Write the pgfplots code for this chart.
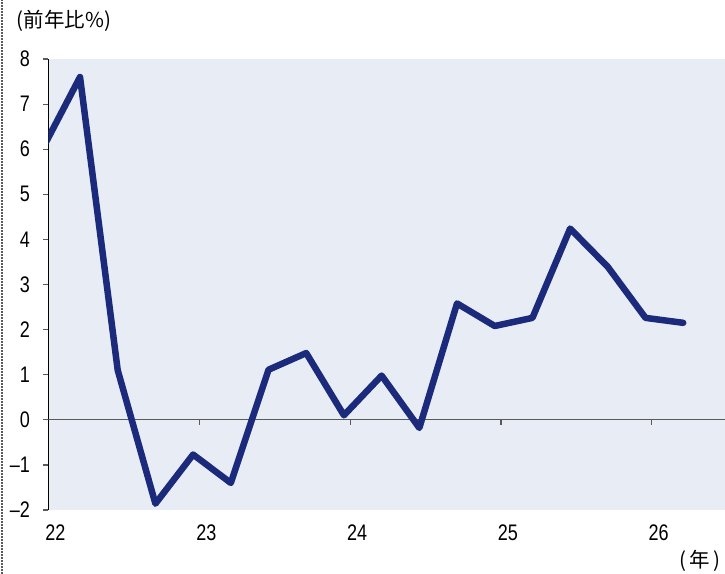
\documentclass[border=0pt]{standalone}
\usepackage{pgfplots}
\pgfplotsset{compat=1.18}
\usepackage{fontspec}
\setmainfont{Liberation Sans}
\newfontfamily\condfont[FakeStretch=0.8]{Liberation Sans}
\newfontfamily\jpfont{Noto Sans CJK JP}

\definecolor{bgblue}{RGB}{232,237,245}
\definecolor{navy}{RGB}{28,42,123}
\definecolor{axgray}{RGB}{90,90,90}

\begin{document}
\begin{tikzpicture}
\useasboundingbox (-48.5bp,-64bp) rectangle (676.5bp,510bp);
\draw[axgray, line width=1.6bp, dash pattern=on 1.6bp off 1.4bp] (-46.5bp,-64bp) -- (-46.5bp,510bp);

\begin{axis}[
	at={(0,0)}, anchor=south west,
	scale only axis,
	width=676.5bp, height=451bp,
	xmin=22, xmax=26.486,
	ymin=-2, ymax=8,
	axis background/.style={fill=bgblue},
	axis y line*=left,
	axis x line*=bottom,
	x axis line style={draw=none},
	y axis line style={black, line width=1.2bp},
	tick align=outside,
	major tick length=5.5bp,
	xtick={22,23,24,25,26},
	xticklabels={22,23,24,25,26},
	xtick style={draw=none},
	ytick={-2,-1,0,1,2,3,4,5,6,7,8},
	yticklabels={–2,–1,0,1,2,3,4,5,6,7,8},
	ytick style={axgray, line width=1.2bp},
	tick label style={font=\condfont\fontsize{22.5bp}{24bp}\selectfont},
	yticklabel style={inner sep=0pt, xshift=-13bp},
	xticklabel style={inner sep=0pt, anchor=north, xshift=7bp, yshift=-9bp},
	clip=true,
]
\draw[axgray, line width=1.2bp] (axis cs:22,0) -- (axis cs:26.486,0);
\draw[axgray, line width=1.2bp] (axis cs:23,0) -- ([yshift=-5bp]axis cs:23,0);
\draw[axgray, line width=1.2bp] (axis cs:24,0) -- ([yshift=-5bp]axis cs:24,0);
\draw[axgray, line width=1.2bp] (axis cs:25,0) -- ([yshift=-5bp]axis cs:25,0);
\draw[axgray, line width=1.2bp] (axis cs:26,0) -- ([yshift=-5bp]axis cs:26,0);

\addplot [navy, line width=6.5bp, line join=round, line cap=round]
table {%
21.959 6.00
22.209 7.60
22.459 1.10
22.709 -1.86
22.959 -0.77
23.209 -1.40
23.459 1.11
23.709 1.48
23.959 0.10
24.209 0.98
24.459 -0.18
24.709 2.58
24.959 2.08
25.209 2.26
25.459 4.24
25.709 3.39
25.959 2.26
26.209 2.15
};
\end{axis}

\node[anchor=west, inner sep=0pt, font=\jpfont\fontsize{20.5bp}{22bp}\selectfont] at (-32bp,489bp) {(前年比\%)};
\node[anchor=east, inner sep=0pt, font=\jpfont\fontsize{20.5bp}{22bp}\selectfont] at (672bp,-51bp) {(\,年\,)};
\end{tikzpicture}
\end{document}
